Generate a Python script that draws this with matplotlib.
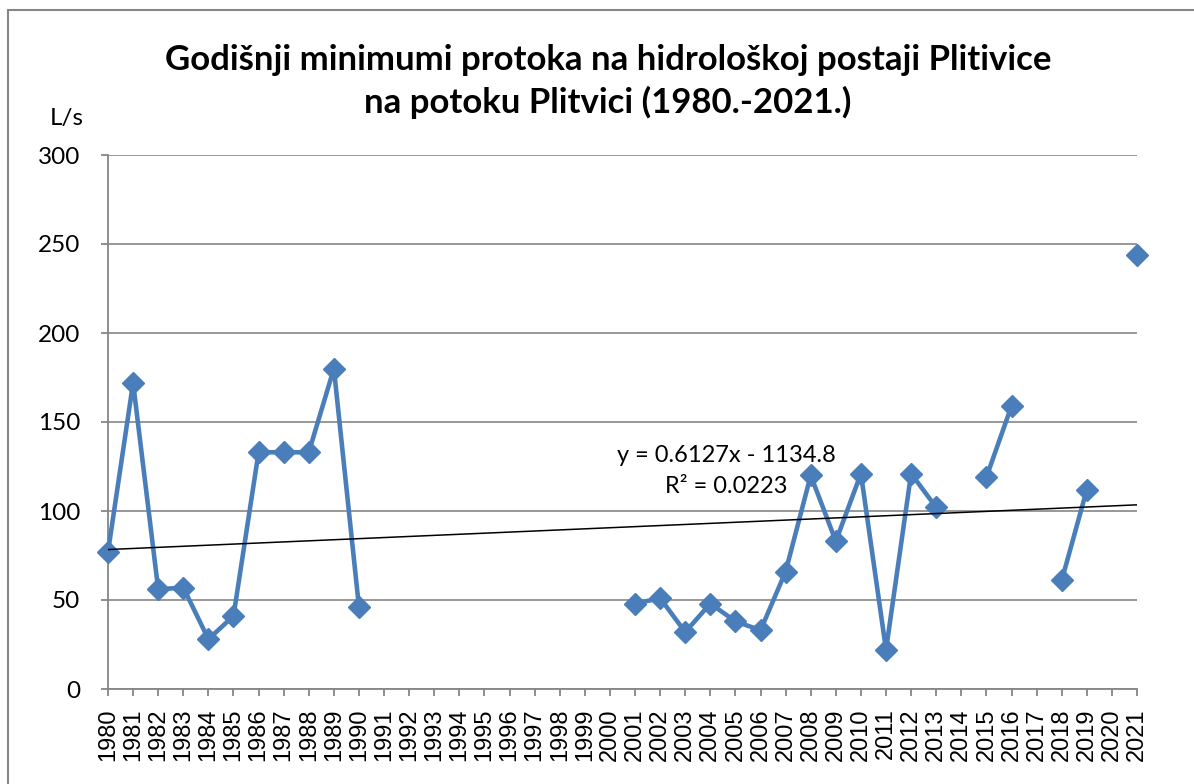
import numpy as np
import matplotlib
matplotlib.use("Agg")
import matplotlib.pyplot as plt
from matplotlib.patches import Rectangle

# godišnji minimumi protoka (L/s), NaN = nema podataka
godine = list(range(1980, 2022))
protok = [77, 172, 56, 57, 28, 41, 133, 133, 133, 180, 46,
          np.nan, np.nan, np.nan, np.nan, np.nan, np.nan, np.nan, np.nan, np.nan, np.nan,
          48, 51, 32, 48, 38, 33, 66, 120, 83, 121, 22, 121, 102,
          np.nan, 119, 159, np.nan, 61, 112, np.nan, 244]
# linearni trend iz Excela
trend_k, trend_l = 0.6127, -1134.8
r2 = 0.0223

PLAVA = "#4A7EBB"
SIVA = "#868686"

fig = plt.figure(figsize=(11.94, 7.84), dpi=100)
fig.patch.set_facecolor("white")
fig.patches.append(Rectangle((8 / 1194, -0.02), 1.2, 1 - 10 / 784 + 0.02,
                             transform=fig.transFigure, fill=False,
                             edgecolor=SIVA, lw=1.5))

ax = fig.add_axes([108 / 1194, 1 - 689 / 784, (1137 - 108) / 1194, (689 - 155) / 784])
x = np.array(godine)
y = np.array(protok, dtype=float)

ax.plot(x, y, color=PLAVA, lw=3.3, marker="D", ms=11, mec=PLAVA, mfc=PLAVA,
        zorder=3, clip_on=False)
xt = np.array([godine[0], godine[-1]])
ax.plot(xt, trend_k * xt + trend_l, color="black", lw=1.1, zorder=4)

ax.set_xlim(godine[0], godine[-1])
ax.set_ylim(0, 300)
ax.set_yticks(range(0, 301, 50))
ax.set_xticks(godine)
ax.set_xticklabels([str(g) for g in godine], rotation=90, fontsize=17,
                   family="Liberation Sans")
for t in ax.get_yticklabels():
    t.set_family("Lato"); t.set_fontsize(17.5)
ax.yaxis.grid(True, color=SIVA, lw=1.2)
ax.set_axisbelow(True)
for s in ("top", "right"):
    ax.spines[s].set_visible(False)
for s in ("left", "bottom"):
    ax.spines[s].set_color(SIVA); ax.spines[s].set_linewidth(1.3)
ax.tick_params(axis="both", direction="out", length=5, width=1.3, color=SIVA,
               labelcolor="black")
ax.tick_params(axis="x", pad=9)
ax.tick_params(axis="y", pad=15)

fig.text(608 / 1194, 1 - 60 / 784,
         "Godišnji minimumi protoka na hidrološkoj postaji Plitivice",
         ha="center", va="center", fontsize=25, fontweight="bold", family="Lato")
fig.text(608 / 1194, 1 - 102 / 784, "na potoku Plitvici (1980.-2021.)",
         ha="center", va="center", fontsize=25, fontweight="bold", family="Lato")
fig.text(67 / 1194, 1 - 118 / 784, "L/s", ha="center", va="center",
         fontsize=17.5, family="Lato")

ax.text(2004.65, 122.5, "y = 0.6127x - 1134.8\nR² = 0.%s" % str(r2).split(".")[1],
        ha="center", va="center", fontsize=17, family="Lato",
        linespacing=1.55)

fig.savefig("out.png", dpi=100, facecolor="white")
